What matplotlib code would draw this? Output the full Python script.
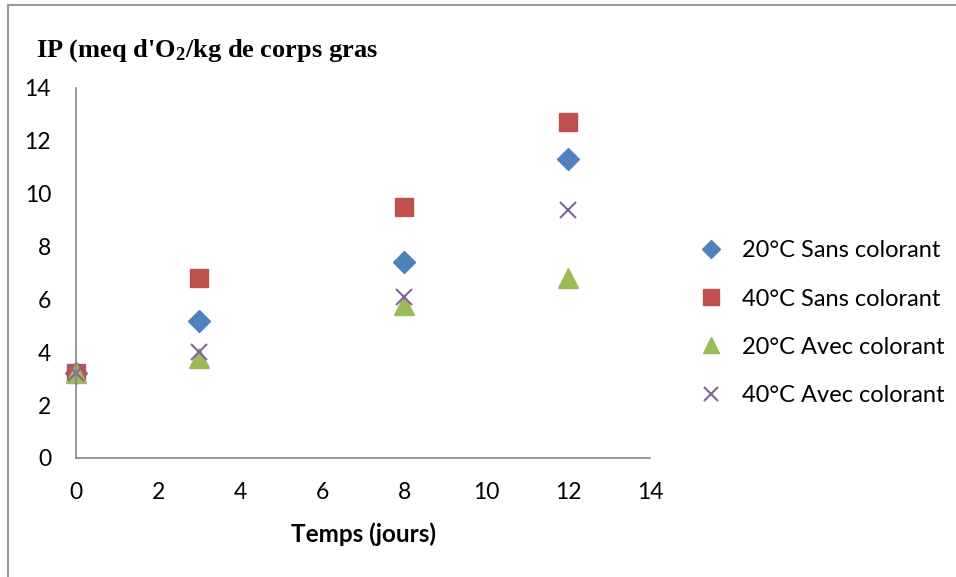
import matplotlib
matplotlib.use('Agg')
import matplotlib.pyplot as plt
from matplotlib.lines import Line2D

# data
jours = [0, 3, 8, 12]
ip_20_sans = [3.2, 5.2, 7.4, 11.3]
ip_40_sans = [3.2, 6.8, 9.5, 12.7]
ip_20_avec = [3.2, 3.8, 5.8, 6.8]
ip_40_avec = [3.2, 4.0, 6.1, 9.4]
labels = ['20°C Sans colorant', '40°C Sans colorant', '20°C Avec colorant', '40°C Avec colorant']
ticks = [0, 2, 4, 6, 8, 10, 12, 14]

plt.rcParams['font.family'] = ['Lato', 'DejaVu Sans']
plt.rcParams['mathtext.fontset'] = 'custom'
plt.rcParams['mathtext.rm'] = 'Liberation Serif:bold'
plt.rcParams['mathtext.it'] = 'Liberation Serif:bold'
plt.rcParams['mathtext.bf'] = 'Liberation Serif:bold'

fig = plt.figure(figsize=(9.56, 5.77), dpi=100)
ax = fig.add_axes([0.0795, 0.2063, 0.6005, 0.6412])

ax.plot(jours, ip_20_sans, 'D', color='#4F81BD', markersize=11, label=labels[0],
        linestyle='none', clip_on=False)
ax.plot(jours, ip_40_sans, 's', color='#C0504D', markersize=13, label=labels[1],
        linestyle='none', clip_on=False)
ax.plot(jours, ip_20_avec, '^', color='#9BBB59', markersize=14, label=labels[2],
        linestyle='none', clip_on=False)
ax.plot(jours, ip_40_avec, 'x', color='#8064A2', markersize=12, markeredgewidth=1.5,
        label=labels[3], linestyle='none', clip_on=False)

ax.set_xlim(0, 14)
ax.set_ylim(0, 14)
ax.set_xticks(ticks)
ax.set_yticks(ticks)
for side in ['top', 'right']:
    ax.spines[side].set_visible(False)
for side in ['left', 'bottom']:
    ax.spines[side].set_color('#868686')
    ax.spines[side].set_linewidth(1.2)
ax.tick_params(length=0, labelsize=16.5)
ax.tick_params(axis='x', pad=17)
ax.tick_params(axis='y', pad=18)
ax.set_xlabel('Temps (jours)', fontsize=17.5, fontweight='bold', labelpad=14)

fig.text(0.038, 0.912, r"IP (meq d'O$_2$/kg de corps gras", fontsize=19,
         family='Liberation Serif', fontweight='bold', va='center', ha='left')

fig.legend(loc='center left', bbox_to_anchor=(0.709, 0.440), frameon=False,
           fontsize=17, labelspacing=1.15, handletextpad=0.3, borderaxespad=0,
           markerscale=0.85)

# chart frame: left and top edges only
fig.add_artist(Line2D([0.008, 0.008], [0, 0.991], transform=fig.transFigure, color='#9a9a9a', lw=1.5))
fig.add_artist(Line2D([0.008, 1.0], [0.991, 0.991], transform=fig.transFigure, color='#9a9a9a', lw=1.5))

fig.savefig('out.png', dpi=100)
